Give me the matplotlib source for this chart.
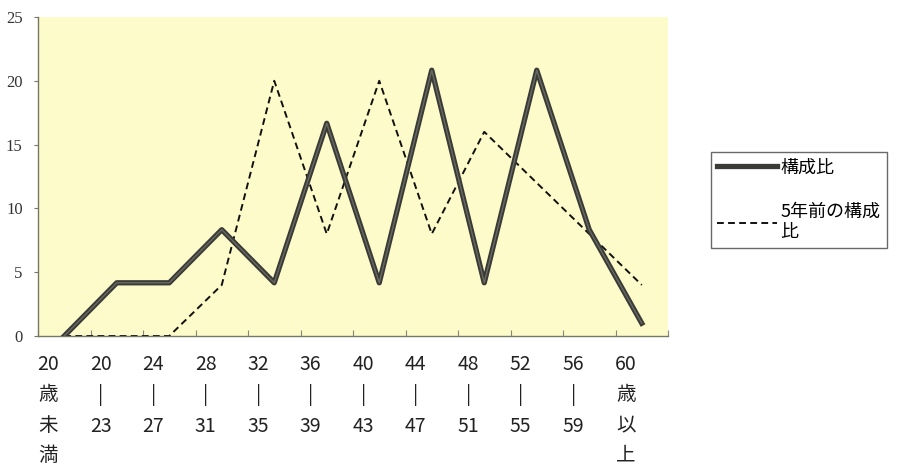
import numpy as np
import matplotlib
matplotlib.use("Agg")
import matplotlib.pyplot as plt
import matplotlib.transforms as mtransforms

plt.rcParams['font.family'] = ['Noto Sans CJK JP', 'DejaVu Sans']

# age groups (x labels, written vertically)
categories = ["20\n歳\n未\n満", "20\n|\n23", "24\n|\n27", "28\n|\n31", "32\n|\n35",
              "36\n|\n39", "40\n|\n43", "44\n|\n47", "48\n|\n51", "52\n|\n55",
              "56\n|\n59", "60\n歳\n以\n上"]
share_now = [0, 4.17, 4.17, 8.33, 4.17, 16.67, 4.17, 20.83, 4.17, 20.83, 8.33, 1.0]
share_5y = [0, 0, 0, 4, 20, 8, 20, 8, 16, 12, 8, 4]
yticks = [0, 5, 10, 15, 20, 25]
labels = ["構成比", "5年前の構成\n比"]

fig = plt.figure(figsize=(8.99, 4.68), dpi=100)
ax = fig.add_axes([38 / 899, 1 - 336 / 468, 630 / 899, 319 / 468])
ax.set_facecolor("#fdfbc9")

x = np.arange(len(categories))
ax.plot(x, share_now, color="#3a3a36", lw=3.8, label=labels[0], zorder=3)
ax.plot(x, share_now, color="#6a6a64", lw=1.0, zorder=4)
ax.plot(x, share_5y, color="#111111", lw=1.4, ls=(0, (3.5, 2.2)), label=labels[1], zorder=2)

ax.set_xlim(-0.5, len(categories) - 0.5)
ax.set_ylim(0, 25)

for s in ["top", "right"]:
    ax.spines[s].set_visible(False)
for s in ["left", "bottom"]:
    ax.spines[s].set_color("#777766")
    ax.spines[s].set_linewidth(1.0)

# tick marks at category boundaries, labels at centres
ax.set_xticks(np.arange(len(categories) + 1) - 0.5)
ax.set_xticklabels([])
ax.tick_params(axis="x", which="major", direction="in", length=4, color="#888877")
ax.set_xticks(x, minor=True)
ax.set_xticklabels(categories, minor=True, fontsize=14, color="#222222",
                   linespacing=1.58, va="top", ha="center")
ax.tick_params(axis="x", which="minor", length=0, pad=13)
shift = mtransforms.ScaledTranslation(-16 / 100, 0, fig.dpi_scale_trans)
for lab in ax.get_xticklabels(minor=True):
    lab.set_transform(lab.get_transform() + shift)

ax.set_yticks(yticks)
ax.set_yticklabels([str(v) for v in yticks], family="Liberation Serif", fontsize=12, color="#333333")
ax.tick_params(axis="y", length=3, direction="out", color="#777766", pad=8)

leg = fig.legend(loc="upper left", bbox_to_anchor=(711 / 899, 1 - 152 / 468),
                 fontsize=13, frameon=True, fancybox=False, handlelength=3.3,
                 handletextpad=0.2, borderpad=0.35, labelspacing=1.45, borderaxespad=0)
leg.get_frame().set_edgecolor("#444444")
leg.get_frame().set_linewidth(1.0)

fig.savefig("out.png", dpi=100, facecolor="white")
